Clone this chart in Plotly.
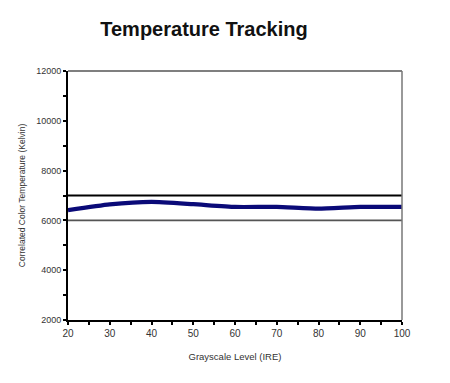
import plotly.graph_objects as go

ire_levels = [20, 30, 40, 50, 60, 70, 80, 90, 100]
color_temp_k = [6410, 6640, 6740, 6650, 6540, 6540, 6470, 6540, 6540]
limit_lines = [6000, 7000]
limit_colors = ["#555555", "#000000"]
y_tick_vals = [2000, 4000, 6000, 8000, 10000, 12000]
y_tick_text = ["2000", "4000", "6000", "8000", "10000", "12000"]
x_tick_vals = [20, 30, 40, 50, 60, 70, 80, 90, 100]

fig = go.Figure()
fig.add_trace(go.Scatter(
    x=ire_levels, y=color_temp_k, mode="lines",
    line=dict(color="#0a0a78", width=4.2, shape="spline", smoothing=0.5),
    showlegend=False, hoverinfo="skip"))

for v, c in zip(limit_lines, limit_colors):
    fig.add_shape(type="line", xref="paper", x0=0, x1=1, yref="y", y0=v, y1=v,
                  line=dict(color=c, width=1.8), layer="below")

# top and right frame lines (gray)
fig.add_shape(type="line", xref="paper", x0=0, x1=1, yref="paper", y0=1, y1=1,
              line=dict(color="#555555", width=1.5))
fig.add_shape(type="line", xref="paper", x0=1, x1=1, yref="paper", y0=0, y1=1,
              line=dict(color="#777777", width=1.5))

font_family = "Liberation Sans, Arial, sans-serif"

W, H = 442, 375
fig.update_layout(
    width=W, height=H,
    margin=dict(l=60, r=48, t=63, b=63),
    paper_bgcolor="white", plot_bgcolor="white",
    font=dict(family=font_family, size=9, color="#222222"),
    title=dict(text="<b>Temperature Tracking</b>", x=196 / W, xref="container", xanchor="center",
               y=1 - 21 / H, yref="container", yanchor="middle",
               font=dict(size=20, color="#111111", family=font_family)),
    xaxis=dict(range=[20, 100], tickvals=x_tick_vals, showgrid=False, zeroline=False,
               showline=True, linecolor="black", linewidth=2,
               ticks="outside", ticklen=3, tickcolor="black", tickwidth=1.5,
               minor=dict(dtick=5, ticks="outside", ticklen=3, tickcolor="black", tickwidth=1.5),
               tickfont=dict(size=10, color="#333333"),
               title=dict(text="Grayscale Level (IRE)", font=dict(size=9.5, color="#333333"), standoff=15)),
    yaxis=dict(range=[2000, 12000], tickvals=y_tick_vals, ticktext=y_tick_text,
               showgrid=False, zeroline=False,
               showline=True, linecolor="black", linewidth=2,
               ticks="outside", ticklen=3, tickcolor="black", tickwidth=1.5,
               minor=dict(dtick=1000, ticks="outside", ticklen=3, tickcolor="black", tickwidth=1.5),
               tickfont=dict(size=9, color="#333333"),
               title=dict(text="Correlated Color Temperature (Kelvin)", font=dict(size=8.5, color="#333333"), standoff=9)),
)

fig.write_html("out.html")
